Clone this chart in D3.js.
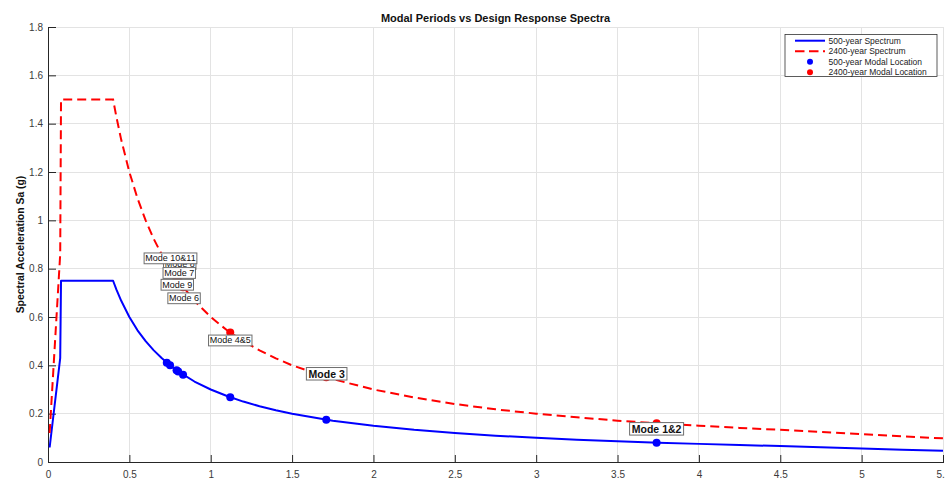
<!DOCTYPE html>
<html>
<head>
<meta charset="utf-8">
<script src="https://cdn.jsdelivr.net/npm/d3@7"></script>
<style>
  html, body { margin: 0; padding: 0; background: #fff; overflow: hidden; }
  svg { display: block; font-family: "Liberation Sans", Arial, Helvetica, sans-serif; }
</style>
</head>
<body>
<svg id="chart" width="945" height="479"></svg>
<script>
// ---- Design spectra (period in s, spectral acceleration in g) ----
const periods = [0.01, 0.075, 0.08, 0.40, 0.42, 0.45, 0.50, 0.55, 0.60, 0.65, 0.70, 0.75,
  0.80, 0.90, 1.00, 1.10, 1.20, 1.30, 1.40, 1.50, 1.75, 2.00, 2.25, 2.50, 2.75, 3.00,
  3.25, 3.50, 3.75, 4.00, 4.25, 4.50, 4.75, 5.00, 5.25, 5.50];
const sa500 = [0.06, 0.43, 0.75, 0.75, 0.714, 0.667, 0.600, 0.545, 0.500, 0.462, 0.429, 0.400,
  0.375, 0.333, 0.300, 0.273, 0.250, 0.231, 0.214, 0.200, 0.171, 0.150, 0.133, 0.120, 0.109, 0.100,
  0.092, 0.086, 0.080, 0.075, 0.070, 0.066, 0.061, 0.056, 0.051, 0.047];
const sa2400 = [0.12, 0.86, 1.50, 1.50, 1.429, 1.333, 1.200, 1.091, 1.000, 0.923, 0.857, 0.800,
  0.750, 0.667, 0.600, 0.545, 0.500, 0.462, 0.429, 0.400, 0.343, 0.300, 0.267, 0.240, 0.218, 0.200,
  0.185, 0.171, 0.160, 0.150, 0.141, 0.133, 0.124, 0.115, 0.106, 0.098];

// ---- Modal periods and the spectral values they land on ----
const modeNames   = ["Mode 1&2", "Mode 3", "Mode 4&5", "Mode 6", "Mode 7", "Mode 8", "Mode 9", "Mode 10&11"];
const modePeriods = [3.74, 1.71, 1.12, 0.83, 0.79, 0.75, 0.80, 0.73];
const modeSa500   = [0.080, 0.175, 0.268, 0.361, 0.380, 0.400, 0.375, 0.411];
const modeSa2400  = [0.160, 0.351, 0.536, 0.723, 0.759, 0.800, 0.750, 0.822];

// ---- Axes and text ----
const xTicks = [0, 0.5, 1, 1.5, 2, 2.5, 3, 3.5, 4, 4.5, 5, 5.5];
const yTicks = [0, 0.2, 0.4, 0.6, 0.8, 1, 1.2, 1.4, 1.6, 1.8];
const titleText = "Modal Periods vs Design Response Spectra";
const yLabelText = "Spectral Acceleration Sa (g)";
const legendLabels = ["500-year Spectrum", "2400-year Spectrum", "500-year Modal Location", "2400-year Modal Location"];

// ---- Layout ----
const W = 945, H = 479;
const plot = { left: 48, right: 943, top: 27, bottom: 462 };
const BLUE = "#0000ff", RED = "#ff0000", AXIS = "#262626", GRID = "#e3e3e3";

// Annotation placement (pixel offset of the box centre from the 2400-year point),
// drawing order and emphasis for each mode label.
const labelLayout = {
  "Mode 1&2":   { dx: 0,   dy: 5.5,  z: 8, bold: true },
  "Mode 3":     { dx: 0.4, dy: -3.4, z: 7, bold: true },
  "Mode 4&5":   { dx: 0,   dy: 8,    z: 6, bold: false },
  "Mode 6":     { dx: 1,   dy: 11,   z: 5, bold: false },
  "Mode 7":     { dx: 2.7, dy: -5.6, z: 3, bold: false },
  "Mode 8":     { dx: 9.7, dy: -4.7, z: 1, bold: false },
  "Mode 9":     { dx: -0.9,dy: 4,    z: 4, bold: false },
  "Mode 10&11": { dx: 3.7, dy: -5,   z: 2, bold: false }
};

const svg = d3.select("#chart");
svg.append("rect").attr("width", W).attr("height", H).attr("fill", "#fff");

const x = d3.scaleLinear().domain([0, 5.5]).range([plot.left, plot.right]);
const y = d3.scaleLinear().domain([0, 1.8]).range([plot.bottom, plot.top]);

// Grid
const grid = svg.append("g");
grid.selectAll("line.gx").data(xTicks.filter(d => d > 0)).join("line")
  .attr("x1", d => x(d)).attr("x2", d => x(d))
  .attr("y1", plot.top).attr("y2", plot.bottom)
  .attr("stroke", GRID).attr("stroke-width", 1).attr("shape-rendering", "crispEdges");
grid.selectAll("line.gy").data(yTicks.filter(d => d > 0)).join("line")
  .attr("x1", plot.left).attr("x2", plot.right)
  .attr("y1", d => y(d)).attr("y2", d => y(d))
  .attr("stroke", GRID).attr("stroke-width", 1).attr("shape-rendering", "crispEdges");

// Axes (ticks pointing inward)
const fmt = d => String(d);
const xAxis = svg.append("g").attr("transform", `translate(0,${plot.bottom})`)
  .call(d3.axisBottom(x).tickValues(xTicks).tickFormat(fmt).tickSizeInner(-7).tickSizeOuter(0).tickPadding(11));
const yAxis = svg.append("g").attr("transform", `translate(${plot.left},0)`)
  .call(d3.axisLeft(y).tickValues(yTicks).tickFormat(fmt).tickSizeInner(-8).tickSizeOuter(0).tickPadding(5));
[xAxis, yAxis].forEach(a => {
  a.select(".domain").attr("stroke", AXIS).attr("stroke-width", 1);
  a.selectAll(".tick line").attr("stroke", AXIS).attr("stroke-width", 1);
  a.selectAll(".tick text").attr("fill", "#3a3a3a").attr("font-size", 10)
    .attr("font-family", "'Liberation Sans', Arial, sans-serif");
});
xAxis.selectAll(".tick text").attr("dy", "0.45em");
yAxis.select(".domain").attr("shape-rendering", "crispEdges");
xAxis.select(".domain").attr("shape-rendering", "crispEdges");

// Spectrum curves
const spectrum500 = periods.map((t, i) => [t, sa500[i]]);
const spectrum2400 = periods.map((t, i) => [t, sa2400[i]]);
const line = d3.line().x(d => x(d[0])).y(d => y(d[1]));

svg.append("path").datum(spectrum500).attr("d", line)
  .attr("fill", "none").attr("stroke", BLUE).attr("stroke-width", 2).attr("stroke-linejoin", "round");
svg.append("path").datum(spectrum2400).attr("d", line)
  .attr("fill", "none").attr("stroke", RED).attr("stroke-width", 2)
  .attr("stroke-dasharray", "9,5");

// Modal locations
const modes = modeNames.map((name, i) => ({
  name, T: modePeriods[i], sa500: modeSa500[i], sa2400: modeSa2400[i]
}));
svg.append("g").selectAll("circle").data(modes).join("circle")
  .attr("cx", d => x(d.T)).attr("cy", d => y(d.sa500)).attr("r", 4).attr("fill", BLUE);
svg.append("g").selectAll("circle").data(modes).join("circle")
  .attr("cx", d => x(d.T)).attr("cy", d => y(d.sa2400)).attr("r", 4).attr("fill", RED);

// Mode labels
const labelsG = svg.append("g");
modes.slice().sort((a, b) => labelLayout[a.name].z - labelLayout[b.name].z).forEach(d => {
  const lay = labelLayout[d.name];
  const cx = x(d.T) + lay.dx, cy = y(d.sa2400) + lay.dy;
  const g = labelsG.append("g");
  const rect = g.append("rect").attr("fill", "#fff").attr("stroke", "#6e6e6e").attr("stroke-width", 1);
  const txt = g.append("text").text(d.name)
    .attr("x", cx).attr("y", cy).attr("text-anchor", "middle").attr("dominant-baseline", "central")
    .attr("font-size", lay.bold ? 10.5 : 9).attr("font-weight", lay.bold ? "bold" : "normal")
    .attr("fill", "#111");
  const w = txt.node().getComputedTextLength();
  const pad = lay.bold ? 2.2 : 1.2, h = lay.bold ? 12.5 : 10.8;
  rect.attr("x", cx - w / 2 - pad).attr("y", cy - h / 2).attr("width", w + 2 * pad).attr("height", h);
});

// Title and axis label
svg.append("text").text(titleText)
  .attr("x", (plot.left + plot.right) / 2).attr("y", 22)
  .attr("text-anchor", "middle").attr("font-size", 11).attr("font-weight", "bold").attr("fill", "#111");
svg.append("text").text(yLabelText)
  .attr("transform", `translate(20,${(plot.top + plot.bottom) / 2}) rotate(-90)`)
  .attr("text-anchor", "middle").attr("dominant-baseline", "central")
  .attr("font-size", 10.4).attr("font-weight", "bold").attr("fill", "#111");

// Legend
const leg = svg.append("g");
const legBox = { x: 785, y: 34.5, w: 152, h: 42 };
leg.append("rect").attr("x", legBox.x).attr("y", legBox.y).attr("width", legBox.w).attr("height", legBox.h)
  .attr("fill", "#fff").attr("stroke", "#333").attr("stroke-width", 0.8);
const rowY = i => legBox.y + 6.2 + i * 10.5;
const sx0 = 795, sx1 = 825, tx = 828.5;
legendLabels.forEach((lbl, i) => {
  const yy = rowY(i);
  if (i === 0) {
    leg.append("line").attr("x1", sx0).attr("x2", sx1).attr("y1", yy).attr("y2", yy)
      .attr("stroke", BLUE).attr("stroke-width", 2);
  } else if (i === 1) {
    leg.append("line").attr("x1", sx0).attr("x2", sx1).attr("y1", yy).attr("y2", yy)
      .attr("stroke", RED).attr("stroke-width", 2).attr("stroke-dasharray", "9.5,4.5");
  } else {
    leg.append("circle").attr("cx", (sx0 + sx1) / 2).attr("cy", yy).attr("r", 3)
      .attr("fill", i === 2 ? BLUE : RED);
  }
  leg.append("text").text(lbl).attr("x", tx).attr("y", yy).attr("dominant-baseline", "central")
    .attr("font-size", 8.5).attr("fill", "#222");
});
</script>
</body>
</html>
